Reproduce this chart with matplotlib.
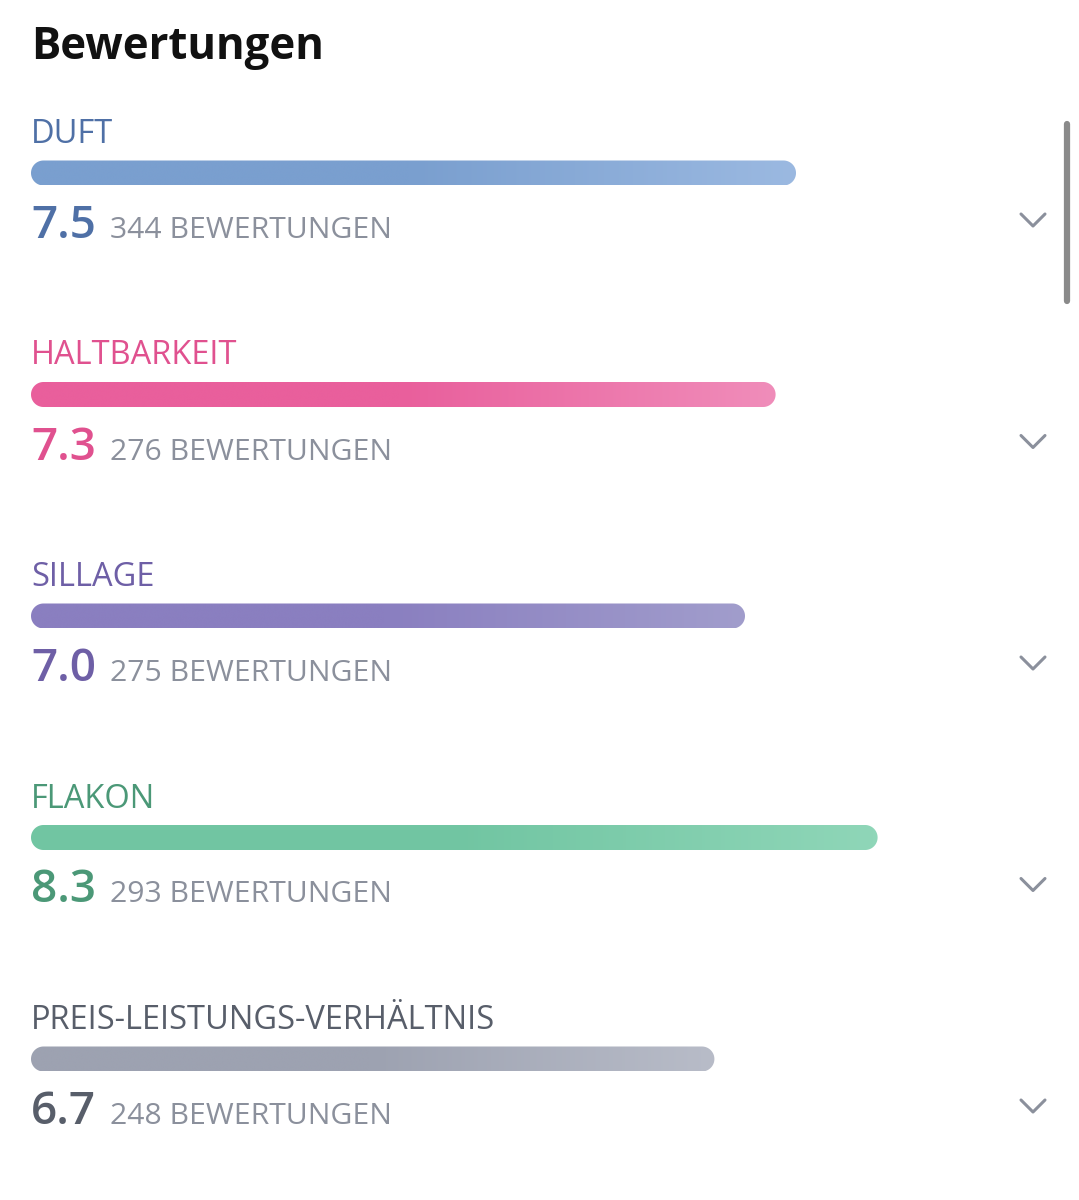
"""
Ratings panel ("Bewertungen") - horizontal rounded gradient bars, 0-10 scale.
"""

import numpy as np
import matplotlib
matplotlib.use("Agg")
import matplotlib.pyplot as plt
from matplotlib.patches import Polygon
from matplotlib.colors import LinearSegmentedColormap

categories = ["DUFT", "HALTBARKEIT", "SILLAGE", "FLAKON", "PREIS-LEISTUNGS-VERHÄLTNIS"]
scores = [7.5, 7.3, 7.0, 8.3, 6.7]
counts = [344, 276, 275, 293, 248]

label_colors = ["#4f70a6", "#e0518f", "#6e5fa6", "#4b9877", "#585e6a"]
bar_start = ["#7a9fcf", "#e95f9c", "#8a7fc0", "#71c5a2", "#9da2b1"]
bar_end = ["#9bb9e1", "#f08dba", "#a19dcc", "#8fd6b8", "#b8bcc8"]

W, H = 1079, 1200
fig = plt.figure(figsize=(W / 100, H / 100), dpi=100)
fig.patch.set_facecolor("white")
plt.rcParams["font.family"] = ["Open Sans", "DejaVu Sans"]

# overlay in pixel coordinates for the text
ov = fig.add_axes([0, 0, 1, 1])
ov.set_xlim(0, W)
ov.set_ylim(H, 0)
ov.axis("off")

# bar axes: 0..10 score scale spanning x=31..1051 px, same unit on y
x0, x1 = 31, 1051
px_per_unit = (x1 - x0) / 10.0
bx = fig.add_axes([x0 / W, 0, (x1 - x0) / W, 1])
bx.set_xlim(0, 10)
bx.set_ylim(H / px_per_unit, 0)
bx.axis("off")

row_gap = 221.5
bar_h = 25 / px_per_unit


def pill(x_end, yc, r):
    # outline of a bar from 0 to x_end with fully rounded ends
    t = np.linspace(-np.pi / 2, np.pi / 2, 40)
    right = np.column_stack([x_end - r + r * np.cos(t), yc + r * np.sin(t)])
    left = np.column_stack([r - r * np.cos(t), yc - r * np.sin(t)])
    return np.vstack([right, left])


ov.text(31, 47, "Bewertungen", fontsize=31.5, fontweight="bold",
        color="#111111", va="center", ha="left")

for i, (cat, s, n) in enumerate(zip(categories, scores, counts)):
    y = (173 + i * row_gap) / px_per_unit
    ov.text(31, 143 + i * row_gap, cat, fontsize=23.5, color=label_colors[i],
            va="baseline", ha="left")

    r = bar_h / 2
    patch = Polygon(pill(s, y, r), closed=True, linewidth=0, facecolor="none")
    bx.add_patch(patch)
    cmap = LinearSegmentedColormap.from_list(
        f"g{i}", [bar_start[i], bar_start[i], bar_end[i]])
    grad = np.linspace(0, 1, 256).reshape(1, -1)
    im = bx.imshow(grad, cmap=cmap, aspect="auto", extent=(0, s, y + r, y - r),
                   interpolation="bicubic")
    im.set_clip_path(patch)

    vy = 238 + i * row_gap
    ov.text(31, vy, f"{s:.1f}", fontsize=33, fontweight="semibold",
            color=label_colors[i], va="baseline", ha="left")
    ov.text(110, vy, f"{n} BEWERTUNGEN", fontsize=21.7, color="#8b909c",
            va="baseline", ha="left")

    cy = 220 + i * row_gap
    ov.plot([1021, 1033, 1045], [cy - 6, cy + 6, cy - 6], color="#8b909c",
            lw=2.2, solid_capstyle="round", solid_joinstyle="round")

# scrollbar
ov.plot([1067, 1067], [124, 301], color="#8a8a8a", lw=4.5, solid_capstyle="round")

fig.savefig("out.png", dpi=100, facecolor="white")
